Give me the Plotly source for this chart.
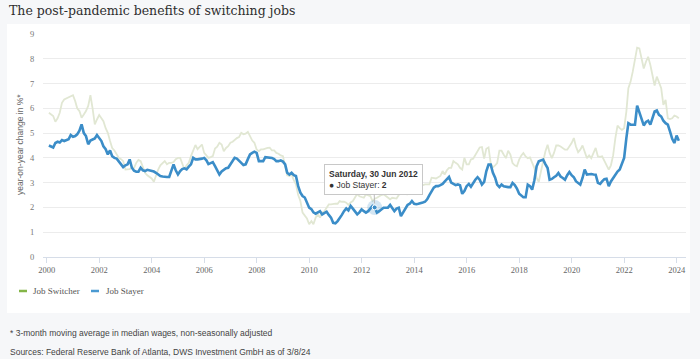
import pandas as pd
import plotly.graph_objects as go

# ---------------- data (monthly, month-end, Jan 2000 - Jan 2024) ----------------
start_month = "2000-01-31"

job_switcher = [
    5.82, 5.75, 5.69, 5.46, 5.6, 5.82, 6.22, 6.36, 6.4, 6.45, 6.49, 6.53,      # 2000
    6.29, 6.0, 5.89, 5.62, 5.75, 5.89, 6.1, 6.53, 6.0, 5.35, 5.55, 5.73,       # 2001
    5.6, 5.48, 5.2, 5.01, 4.68, 4.4, 4.3, 4.17, 4.0, 3.95, 3.87, 3.53,         # 2002
    3.53, 3.55, 3.6, 3.6, 3.8, 3.92, 3.87, 3.6, 3.4, 3.3, 3.23, 3.17,          # 2003
    3.04, 3.3, 3.53, 3.7, 3.8, 3.87, 3.74, 3.8, 3.8, 3.83, 3.95, 4.0,          # 2004
    4.0, 3.8, 3.53, 3.7, 3.8, 4.07, 4.3, 4.52, 4.35, 4.45, 4.54, 4.2,          # 2005
    4.1, 4.0, 4.03, 4.07, 4.38, 4.45, 4.61, 4.54, 4.27, 4.4, 4.47, 4.61,       # 2006
    4.65, 4.74, 4.8, 4.84, 5.01, 4.95, 4.98, 5.05, 4.87, 4.7, 4.61, 4.34,      # 2007
    4.27, 4.34, 4.34, 4.38, 4.4, 4.41, 4.3, 4.3, 4.2, 4.17, 4.1, 4.07,         # 2008
    3.6, 3.3, 3.27, 3.33, 3.1, 2.93, 2.5, 2.26, 1.79, 1.65, 1.56, 1.32,        # 2009
    1.45, 1.32, 1.59, 1.72, 1.59, 1.79, 1.85, 1.99, 2.12, 2.12, 2.15, 2.15,    # 2010
    2.15, 2.26, 2.23, 2.23, 2.19, 2.1, 2.2, 2.26, 2.4, 2.55, 2.45, 2.42,       # 2011
    2.39, 2.53, 2.5, 2.46, 2.26, 2.35, 2.39, 2.46, 2.5, 2.53, 2.46, 2.4,       # 2012
    2.33, 2.39, 2.36, 2.36, 2.5, 2.66, 2.55, 2.55, 2.53, 2.59, 2.7, 2.8,       # 2013
    2.77, 3.0, 3.0, 2.9, 2.93, 2.93, 2.93, 3.2, 3.2, 3.17, 3.22, 3.27,         # 2014
    3.47, 3.33, 3.5, 3.6, 3.6, 3.87, 3.8, 3.74, 3.6, 3.53, 4.0, 3.74,          # 2015
    3.74, 3.94, 3.97, 4.14, 4.26, 4.42, 4.44, 3.97, 4.37, 4.42, 3.79, 3.62,    # 2016
    3.7, 3.79, 4.29, 4.29, 4.13, 3.99, 4.29, 4.13, 3.79, 3.7, 3.66, 3.93,      # 2017
    4.1, 4.2, 4.06, 3.99, 4.02, 3.8, 3.59, 3.19, 3.03, 3.46, 3.93, 4.26,       # 2018
    4.53, 4.2, 3.99, 4.2, 4.5, 4.5, 4.46, 4.4, 4.33, 4.33, 4.46, 4.6,          # 2019
    4.8, 4.46, 4.23, 4.33, 4.5, 4.2, 3.99, 4.1, 3.99, 4.2, 4.4, 4.06,          # 2020
    4.04, 4.06, 3.86, 3.66, 3.53, 3.7, 4.1, 4.8, 5.3, 5.2, 5.13, 5.2,          # 2021
    5.87, 6.81, 7.08, 7.48, 8.02, 8.45, 8.42, 8.02, 7.61, 7.88, 8.08, 7.75,    # 2022
    7.28, 6.92, 7.28, 7.0, 6.81, 6.14, 6.34, 5.6, 5.57, 5.6, 5.71, 5.67,       # 2023
    5.6,                                                                        # 2024
]

job_stayer = [
    4.5, 4.45, 4.42, 4.6, 4.65, 4.62, 4.72, 4.68, 4.72, 4.75, 4.92, 4.85,      # 2000
    4.88, 4.95, 5.1, 5.35, 5.0, 4.88, 4.55, 4.7, 4.74, 4.78, 4.92, 4.8,        # 2001
    4.68, 4.47, 4.35, 4.14, 4.3, 4.07, 4.0, 3.97, 3.87, 3.75, 3.63, 3.7,       # 2002
    3.74, 3.94, 3.6, 3.48, 3.44, 3.44, 3.6, 3.5, 3.47, 3.52, 3.5, 3.47,        # 2003
    3.45, 3.4, 3.33, 3.27, 3.25, 3.23, 3.23, 3.23, 3.47, 3.74, 3.5, 3.33,      # 2004
    3.47, 3.55, 3.58, 3.54, 3.65, 3.74, 4.0, 3.94, 3.94, 3.94, 3.97, 4.0,      # 2005
    3.9, 3.75, 3.8, 3.83, 3.67, 3.5, 3.33, 3.45, 3.53, 3.58, 3.6, 3.74,        # 2006
    3.85, 4.0, 3.97, 3.9, 3.8, 3.71, 3.74, 3.95, 4.14, 4.2, 4.25, 4.2,         # 2007
    3.87, 3.87, 3.87, 4.03, 4.03, 4.03, 4.0, 3.95, 3.87, 3.87, 3.9, 3.85,      # 2008
    3.74, 3.4, 3.33, 3.4, 3.3, 3.27, 2.86, 2.6, 2.46, 2.4, 2.2, 1.99,          # 2009
    1.93, 1.8, 1.75, 1.79, 1.85, 1.72, 1.79, 1.83, 1.7, 1.59, 1.38, 1.36,      # 2010
    1.45, 1.56, 1.7, 1.85, 1.96, 1.88, 2.06, 1.95, 1.85, 1.72, 1.8, 1.92,      # 2011
    1.85, 1.79, 1.85, 1.95, 2.06, 2.0, 1.79, 1.85, 1.92, 1.99, 1.99, 1.99,     # 2012
    2.1, 2.0, 1.85, 1.95, 1.99, 1.65, 1.8, 1.92, 2.1, 2.15, 2.26, 2.15,        # 2013
    2.13, 2.15, 2.19, 2.2, 2.23, 2.33, 2.5, 2.66, 2.8, 2.86, 2.86, 2.9,        # 2014
    2.95, 3.04, 3.15, 3.23, 3.0, 2.95, 2.9, 2.93, 2.9, 2.55, 2.66, 2.86,       # 2015
    2.95, 2.84, 3.0, 3.12, 3.22, 3.12, 2.92, 3.03, 3.46, 3.73, 3.73, 3.4,      # 2016
    3.2, 2.92, 2.82, 2.92, 2.85, 2.82, 2.82, 2.82, 2.99, 2.9, 2.76, 2.55,      # 2017
    2.49, 2.41, 2.41, 2.92, 2.86, 2.72, 3.1, 3.66, 3.86, 3.9, 3.93, 3.75,      # 2018
    3.59, 3.12, 3.15, 3.22, 3.28, 3.39, 3.25, 3.19, 3.12, 3.3, 3.43, 3.3,      # 2019
    3.22, 3.06, 3.0, 2.92, 3.19, 3.53, 3.33, 3.35, 3.35, 3.33, 3.32, 2.99,     # 2020
    2.95, 3.05, 3.14, 3.16, 2.86, 3.05, 3.19, 3.32, 3.45, 3.53, 3.73, 4.0,     # 2021
    4.8, 5.4, 5.34, 5.34, 5.34, 6.11, 5.87, 5.58, 5.31, 5.45, 5.5, 5.34,       # 2022
    5.6, 5.87, 5.91, 5.74, 5.67, 5.5, 5.4, 5.34, 5.07, 4.77, 4.6, 4.9,         # 2023
    4.69,                                                                       # 2024
]

series_names = ["Job Switcher", "Job Stayer"]
hover_date = "2012-06-30"

title_text = "The post-pandemic benefits of switching jobs"
y_title = "year-on-year change in %*"
footnote_1 = "* 3-month moving average in median wages, non-seasonally adjusted"
footnote_2 = "Sources: Federal Reserve Bank of Atlanta, DWS Investment GmbH as of 3/8/24"

# ---------------- layout helpers ----------------
W, H = 700, 359
L, R, T, B = 43, 14, 34, 102
PW, PH = W - L - R, H - T - B


def xp(px):
    return (px - L) / PW


def yp(py):
    return (H - B - py) / PH


dates = pd.date_range(start=start_month, periods=len(job_stayer), freq=pd.offsets.MonthEnd())

blue = "#3b8dc8"
faint = "#e1e7d3"
green = "#84b548"

fig = go.Figure()
fig.add_trace(go.Scatter(x=dates, y=job_switcher, mode="lines", name=series_names[0],
                         line=dict(color=faint, width=1.8), showlegend=False, hoverinfo="skip"))
fig.add_trace(go.Scatter(x=dates, y=job_stayer, mode="lines", name=series_names[1],
                         line=dict(color=blue, width=2.6), showlegend=False, hoverinfo="skip"))

# hovered point (halo + marker)
hd = pd.Timestamp(hover_date)
hidx = list(dates).index(hd)
hval = job_stayer[hidx]
fig.add_trace(go.Scatter(x=[dates[hidx]], y=[hval], mode="markers",
                         marker=dict(size=15, color="rgba(59,141,200,0.22)"),
                         showlegend=False, hoverinfo="skip"))
fig.add_trace(go.Scatter(x=[dates[hidx]], y=[hval], mode="markers",
                         marker=dict(size=5, color=blue, line=dict(color="white", width=1)),
                         showlegend=False, hoverinfo="skip"))

shapes = [
    dict(type="rect", xref="paper", yref="paper", x0=xp(7), x1=xp(690), y0=yp(313), y1=yp(24),
         fillcolor="white", line=dict(width=0), layer="below"),
    # legend swatches
    dict(type="line", xref="paper", yref="paper", x0=xp(19), x1=xp(27), y0=yp(291), y1=yp(291),
         line=dict(color=green, width=2.5)),
    dict(type="line", xref="paper", yref="paper", x0=xp(91), x1=xp(99), y0=yp(291), y1=yp(291),
         line=dict(color="#4a9ad2", width=2.5)),
]

label = hd.strftime("%A, %d %b %Y")
tooltip = f"<b>{label}</b><br>\u25CF {series_names[1]}: <b>{hval:g}</b>"

annotations = [
    dict(text=title_text, xref="paper", yref="paper", x=xp(7), y=yp(11), xanchor="left", yanchor="middle",
         showarrow=False, font=dict(family="DejaVu Serif", size=12.5, color="#2e2e2e")),
    dict(text=y_title, xref="paper", yref="paper", x=xp(20), y=yp(145), xanchor="center", yanchor="middle",
         textangle=-90, showarrow=False, font=dict(family="Liberation Sans", size=8.5, color="#666666")),
    dict(text=series_names[0], xref="paper", yref="paper", x=xp(31), y=yp(291), xanchor="left", yanchor="middle",
         showarrow=False, font=dict(family="Liberation Serif", size=9, color="#555555")),
    dict(text=series_names[1], xref="paper", yref="paper", x=xp(104), y=yp(291), xanchor="left", yanchor="middle",
         showarrow=False, font=dict(family="Liberation Serif", size=9, color="#555555")),
    dict(text=footnote_1, xref="paper", yref="paper", x=xp(8), y=yp(333), xanchor="left", yanchor="middle",
         showarrow=False, font=dict(family="Liberation Sans", size=8.5, color="#444444")),
    dict(text=footnote_2, xref="paper", yref="paper", x=xp(8), y=yp(352), xanchor="left", yanchor="middle",
         showarrow=False, font=dict(family="Liberation Sans", size=8.5, color="#444444")),
    dict(text=tooltip, x=dates[hidx], y=hval, xref="x", yref="y", showarrow=True, ax=-1, ay=-28,
         arrowhead=0, arrowwidth=1, arrowcolor="#bbbbbb", standoff=4, align="left",
         bgcolor="white", bordercolor="#c8c8c8", borderwidth=1, borderpad=4,
         font=dict(family="Liberation Sans", size=8.5, color="#333333")),
]

fig.update_layout(
    width=W, height=H,
    margin=dict(l=L, r=R, t=T, b=B),
    paper_bgcolor="#f6f7f9",
    plot_bgcolor="white",
    showlegend=False,
    hovermode=False,
    shapes=shapes,
    annotations=annotations,
    xaxis=dict(type="date", range=["1999-11-10", "2024-05-10"], tick0="2000-01-01", dtick="M24",
               tickformat="%Y", showgrid=False, zeroline=False, showline=True, linecolor="#d6dde8",
               linewidth=1, ticks="outside", ticklen=5, tickcolor="#d6dde8",
               tickfont=dict(family="Liberation Serif", size=8.5, color="#666666")),
    yaxis=dict(range=[0, 9], dtick=1, showgrid=True, gridcolor="#ececec", gridwidth=1, zeroline=False,
               showline=False, ticks="outside", ticklen=6, tickcolor="rgba(0,0,0,0)",
               tickfont=dict(family="Liberation Serif", size=8.5, color="#777777")),
)

fig.write_html("out.html",
               config={"displayModeBar": False, "staticPlot": True},
               post_script="document.body.style.margin='0px';document.body.style.overflow='hidden';")
